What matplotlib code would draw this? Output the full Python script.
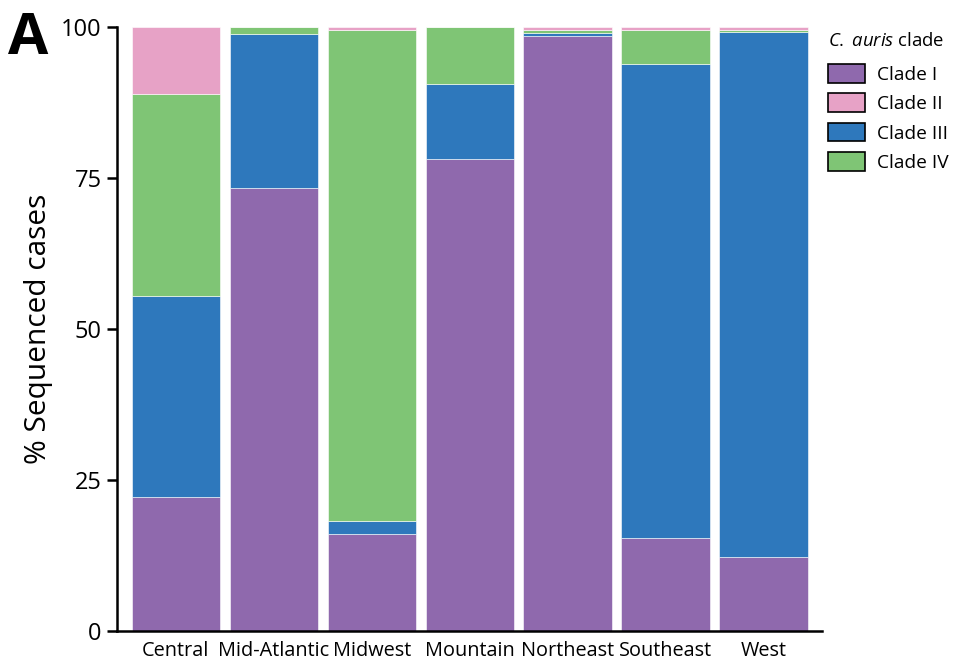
import matplotlib
matplotlib.use("Agg")
import matplotlib.pyplot as plt
from matplotlib.patches import Patch
import numpy as np

plt.rcParams['font.family'] = ['Open Sans', 'DejaVu Sans']
plt.rcParams['mathtext.fontset'] = 'custom'
plt.rcParams['mathtext.it'] = 'Open Sans:italic'
plt.rcParams['mathtext.rm'] = 'Open Sans'

regions = ["Central", "Mid-Atlantic", "Midwest", "Mountain", "Northeast", "Southeast", "West"]
clades = ["Clade I", "Clade II", "Clade III", "Clade IV"]

# % of sequenced cases per region, stacked bottom to top: I, III, IV, II
clade_1 = [22.2, 73.3, 16.1, 78.1, 98.6, 15.4, 12.2]
clade_3 = [33.3, 25.6, 2.1, 12.5, 0.5, 78.5, 87.0]
clade_4 = [33.4, 1.1, 81.3, 9.4, 0.4, 5.6, 0.4]
clade_2 = [11.1, 0.0, 0.5, 0.0, 0.5, 0.5, 0.4]

colors = {"Clade I": "#8F69AD", "Clade II": "#E7A2C6",
          "Clade III": "#2E78BC", "Clade IV": "#7FC575"}

fig = plt.figure(figsize=(9.55, 6.61), dpi=100)
ax = fig.add_axes([0.1225, 0.0454, 0.7385, 0.9136])

x = np.arange(len(regions))
bottom = np.zeros(len(regions))
for name, vals in [("Clade I", clade_1), ("Clade III", clade_3),
                   ("Clade IV", clade_4), ("Clade II", clade_2)]:
    ax.bar(x, vals, width=0.9, bottom=bottom, color=colors[name],
           edgecolor="white", linewidth=0.4)
    bottom += np.array(vals)

ax.set_xlim(-0.6, 6.6)
ax.set_ylim(0, 100)
ax.set_yticks([0, 25, 50, 75, 100])
ax.set_xticks(x)
ax.set_xticklabels(regions, fontsize=14.3)
ax.tick_params(axis="x", length=0, pad=7)
ax.tick_params(axis="y", length=7, width=1.8, labelsize=17, pad=4)
ax.spines["top"].set_visible(False)
ax.spines["right"].set_visible(False)
ax.spines["left"].set_linewidth(1.8)
ax.spines["bottom"].set_linewidth(1.8)
ax.set_ylabel("% Sequenced cases", fontsize=21.5, labelpad=6)

fig.text(0.008, 0.985, "A", fontsize=42, fontweight="bold", va="top", ha="left")

handles = [Patch(facecolor=colors[c], edgecolor="black", linewidth=1.2) for c in clades]
leg = fig.legend(handles, clades, loc="upper left", bbox_to_anchor=(0.851, 0.975),
                 frameon=False, fontsize=13.8, handlelength=1.95, handleheight=1.13,
                 labelspacing=0.5, handletextpad=0.6, borderpad=0.3,
                 title=r"$\it{C.}$ $\it{auris}$ clade", title_fontsize=13.3)
leg._legend_box.align = "left"
leg._legend_box.sep = 10

fig.savefig("out.png", dpi=100)
